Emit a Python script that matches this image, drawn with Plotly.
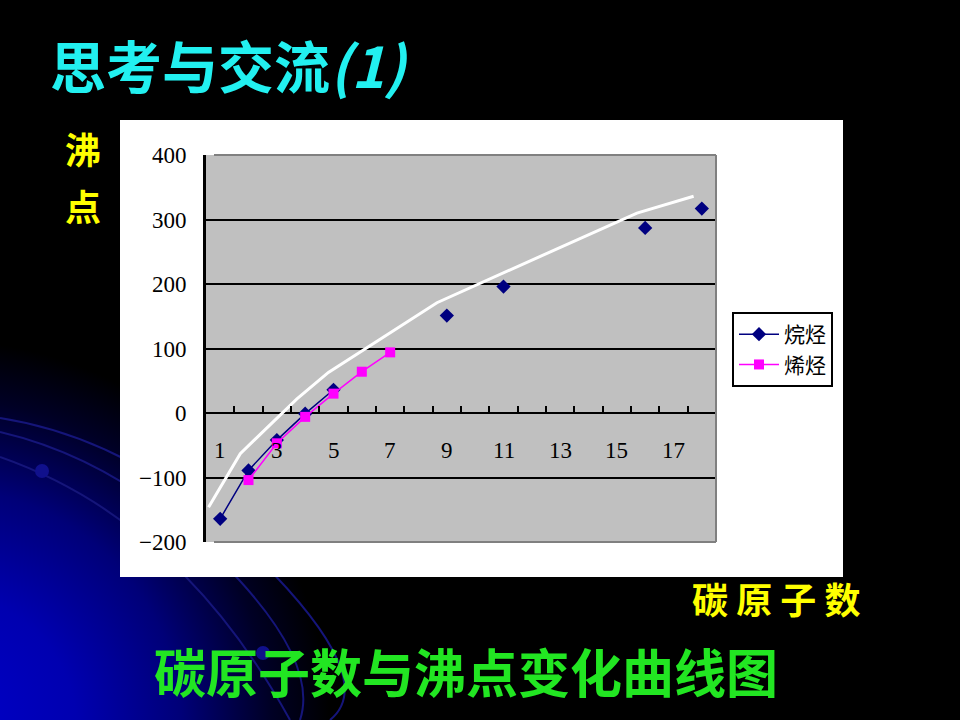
import base64
import plotly.graph_objects as go

# ---------------- data ----------------
carbon_numbers = list(range(1, 19))
alkane_bp = [-164, -89, -42, -1, 36, None, None, None, 151, None, 196,
             None, None, None, None, 287, None, 317]
alkene_bp = [None, -104, -47, -6, 30, 64, 94, None, None, None, None,
             None, None, None, None, None, None, None]
trend_x = [0.59, 1.71, 3.71, 4.82, 8.65, 15.71, 17.71]
trend_y = [-146, -63, 22, 63, 171, 310, 336]
x_tick_labels = [1, 3, 5, 7, 9, 11, 13, 15, 17]
y_ticks = [-200, -100, 0, 100, 200, 300, 400]
series_names = ["烷烃", "烯烃"]

W, H = 960, 720

# ---------------- decorative background (svg) ----------------
svg = f'''<svg xmlns="http://www.w3.org/2000/svg" width="{W}" height="{H}" viewBox="0 0 {W} {H}" preserveAspectRatio="none">
<defs>
<radialGradient id="g" cx="-60" cy="730" r="390" gradientUnits="userSpaceOnUse">
<stop offset="0" stop-color="#0000cc"/>
<stop offset="0.35" stop-color="#0000b0"/>
<stop offset="0.62" stop-color="#000078"/>
<stop offset="0.85" stop-color="#000025"/>
<stop offset="1" stop-color="#000000"/>
</radialGradient>
</defs>
<rect width="{W}" height="{H}" fill="#000"/>
<rect width="{W}" height="{H}" fill="url(#g)"/>
<g fill="none" stroke="#15157a" stroke-width="2">
<path d="M0,418 Q140,440 260,560 T330,720"/>
<path d="M0,432 Q120,460 220,560 T300,720"/>
<path d="M0,457 Q180,520 290,720"/>
</g>
<circle cx="42" cy="471" r="7" fill="#10108c"/>
<circle cx="263" cy="653" r="7" fill="#10108c"/>
</svg>'''
svg_uri = "data:image/svg+xml;base64," + base64.b64encode(svg.encode()).decode()

# ---------------- figure ----------------
fig = go.Figure()

fig.add_trace(go.Scatter(x=trend_x, y=trend_y, mode="lines",
                         line=dict(color="white", width=3),
                         showlegend=False, hoverinfo="skip"))
fig.add_trace(go.Scatter(x=carbon_numbers, y=alkane_bp, name=series_names[0],
                         mode="lines+markers", connectgaps=False,
                         line=dict(color="#000080", width=1.5),
                         marker=dict(symbol="diamond", size=11, color="#000080")))
fig.add_trace(go.Scatter(x=carbon_numbers, y=alkene_bp, name=series_names[1],
                         mode="lines+markers", connectgaps=False,
                         line=dict(color="#ff00ff", width=1.5),
                         marker=dict(symbol="square", size=10, color="#ff00ff")))

x_dom = [206 / W, 716 / W]
y_dom = [1 - 542 / H, 1 - 155 / H]
zero_pos = y_dom[0] + (y_dom[1] - y_dom[0]) * (0 - y_ticks[0]) / (y_ticks[-1] - y_ticks[0])

border = dict(color="#808080", width=2)
tick_gap = 8 / (716 - 206)
shapes = [
    dict(type="rect", xref="paper", yref="paper",
         x0=120 / W, x1=843 / W, y0=1 - 577 / H, y1=1 - 120 / H,
         fillcolor="white", line=dict(width=0), layer="below"),
    dict(type="rect", xref="x domain", yref="y domain", x0=0, x1=1, y0=0, y1=1,
         fillcolor="#c0c0c0", line=dict(width=0), layer="below"),
    dict(type="line", xref="x domain", yref="y domain", x0=tick_gap, x1=1, y0=1, y1=1,
         line=border, layer="above"),
    dict(type="line", xref="x domain", yref="y domain", x0=tick_gap, x1=1, y0=0, y1=0,
         line=border, layer="above"),
    dict(type="line", xref="x domain", yref="y domain", x0=1, x1=1, y0=0, y1=1,
         line=border, layer="above"),
]

fig.update_layout(
    width=W, height=H, autosize=False,
    margin=dict(l=0, r=0, t=0, b=0, pad=0, autoexpand=False),
    paper_bgcolor="black", plot_bgcolor="rgba(0,0,0,0)",
    images=[dict(source=svg_uri, xref="paper", yref="paper", x=0, y=1,
                 sizex=1, sizey=1, xanchor="left", yanchor="top",
                 sizing="stretch", layer="below")],
    xaxis=dict(domain=x_dom, range=[0.5, 18.5], anchor="free", position=zero_pos,
               side="top", showgrid=False, zeroline=False, showline=False,
               automargin=False,
               ticks="outside", ticklen=7, tickwidth=2, tickcolor="black",
               tickvals=[c + 0.5 for c in carbon_numbers[:-1]],
               showticklabels=False),
    yaxis=dict(domain=y_dom, range=[y_ticks[0], y_ticks[-1]], tickvals=y_ticks,
               showgrid=True, gridcolor="black", gridwidth=2,
               zeroline=True, zerolinecolor="black", zerolinewidth=2,
               automargin=False,
               showline=True, linecolor="black", linewidth=3,
               ticks="inside", ticklen=7, tickwidth=2, tickcolor="black",
               ticklabelstandoff=12,
               tickfont=dict(family="Liberation Serif", size=23, color="black")),
    legend=dict(x=732 / W, y=1 - 312 / H, xanchor="left", yanchor="top",
                bgcolor="white", bordercolor="black", borderwidth=2,
                font=dict(family="Noto Sans CJK SC", size=21, color="black"),
                itemwidth=40, tracegroupgap=0),
    shapes=shapes,
    showlegend=True,
)

annotations = []
for v in x_tick_labels:
    annotations.append(dict(x=v, y=-58, xref="x", yref="y", text=str(v),
                            showarrow=False, xanchor="center", yanchor="middle",
                            font=dict(family="Liberation Serif", size=23, color="black")))

cjk = "Noto Sans CJK SC"
annotations += [
    dict(x=48 / W, y=1 - 63 / H, xref="paper", yref="paper",
         text="<b>思考与交流<i>(1)</i></b>", showarrow=False,
         xanchor="left", yanchor="middle",
         font=dict(family=cjk, size=56, color="#22f0f0")),
    dict(x=83 / W, y=1 - 148 / H, xref="paper", yref="paper", text="<b>沸</b>",
         showarrow=False, xanchor="center", yanchor="middle",
         font=dict(family=cjk, size=36, color="#ffff00")),
    dict(x=83 / W, y=1 - 205 / H, xref="paper", yref="paper", text="<b>点</b>",
         showarrow=False, xanchor="center", yanchor="middle",
         font=dict(family=cjk, size=36, color="#ffff00")),
    dict(x=776 / W, y=1 - 598 / H, xref="paper", yref="paper", text="<b>碳 原 子 数</b>",
         showarrow=False, xanchor="center", yanchor="middle",
         font=dict(family=cjk, size=36, color="#ffff00")),
    dict(x=466 / W, y=1 - 670 / H, xref="paper", yref="paper",
         text="<b>碳原子数与沸点变化曲线图</b>", showarrow=False,
         xanchor="center", yanchor="middle",
         font=dict(family=cjk, size=52, color="#22e622")),
]
fig.update_layout(annotations=annotations)

fig.write_html("out.html")
